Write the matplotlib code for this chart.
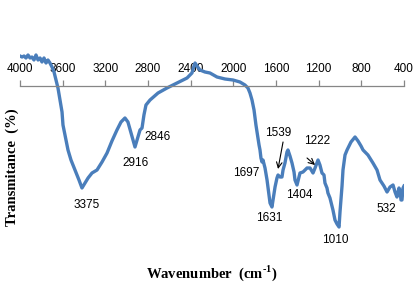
import matplotlib
matplotlib.use('Agg')
import matplotlib.pyplot as plt

# FTIR spectrum (wavenumber in cm-1, transmittance in arbitrary %)
# 10 values per row in both lists so they stay aligned
wavenumber = [4000, 3981, 3962, 3944, 3925, 3906, 3888, 3869, 3850, 3831,
              3812, 3794, 3775, 3756, 3738, 3719, 3700, 3681, 3662, 3644,
              3625, 3606, 3597, 3578, 3550, 3522, 3484, 3447, 3419, 3391,
              3362, 3325, 3278, 3231, 3184, 3138, 3091, 3053, 3016, 2988,
              2959, 2941, 2922, 2903, 2875, 2856, 2838, 2819, 2781, 2706,
              2622, 2528, 2434, 2388, 2369, 2359, 2341, 2313, 2266, 2219,
              2153, 2078, 2003, 1938, 1891, 1863, 1844, 1825, 1806, 1788,
              1769, 1759, 1750, 1741, 1731, 1722, 1703, 1684, 1666, 1656,
              1638, 1628, 1609, 1591, 1581, 1563, 1544, 1534, 1516, 1497,
              1488, 1469, 1450, 1431, 1422, 1403, 1384, 1375, 1347, 1309,
              1281, 1253, 1234, 1206, 1188, 1169, 1150, 1141, 1122, 1113,
              1094, 1066, 1047, 1028, 1009, 1000, 981, 972, 953, 934,
              897, 859, 831, 803, 784, 738, 691, 653, 625, 588,
              559, 531, 503, 484, 466, 447, 438, 428, 419, 409,
              400]
transmittance = [87, 86.5, 87, 86, 87.5, 86, 86.5, 85, 87.5, 85,
                 86, 84, 86, 83.5, 85, 83.5, 81.5, 79, 75, 71,
                 65, 59, 52.5, 47.5, 40, 35, 30, 25, 21, 23.5,
                 26, 28.5, 30, 34, 38.5, 44.5, 50, 54, 56, 54,
                 48.5, 45, 41.5, 45, 50, 51, 57.5, 62.5, 65, 68.5,
                 71, 73.5, 76, 78.5, 82, 83.5, 82, 80, 79, 78.5,
                 76.5, 75.5, 75, 74, 72.5, 71, 68.5, 65, 60, 52.5,
                 46, 42.5, 40, 36, 34, 35, 31, 25, 17.5, 13.5,
                 11.5, 15, 21.5, 26, 27.5, 26.5, 26.5, 30, 33.5, 39,
                 40, 37, 33.5, 29, 25, 22.5, 26.5, 28.5, 29, 31,
                 31, 28.5, 31, 35, 32.5, 28.5, 27.5, 23.5, 21, 18.5,
                 16, 10, 5, 3, 1.5, 9, 22, 30, 37.5, 40,
                 44, 46.5, 44.5, 42, 40, 37.5, 33.5, 30, 25, 22,
                 19, 21.5, 22.5, 19, 16.5, 21, 20, 15, 15, 21,
                 22]

tick_values = [4000, 3600, 3200, 2800, 2400, 2000, 1600, 1200, 800, 400]

# peak labels
peak_labels = ['3375', '2916', '2846', '1697', '1631', '1539', '1404', '1222', '1010', '532']
peak_text_x = [3372, 2912, 2706, 1881, 1666, 1581, 1384, 1216, 1047, 569]
peak_text_y = [12.5, 33.5, 46.5, 28.5, 6, 48.5, 17.5, 44.5, -5, 10.5]

# the two arrows (start -> tip)
arrow_start = [(1534, 44), (1309, 36)]
arrow_tip = [(1581, 30.5), (1234, 32.5)]

fig = plt.figure(figsize=(4.18, 2.90), dpi=100)
ax = fig.add_axes([20 / 418, 50 / 290, 384 / 418, 195 / 290])

ax.plot(wavenumber, transmittance, color='#4a7ebb', lw=2.4, solid_joinstyle='round')

ax.set_xlim(4000, 400)
ax.set_ylim(-5, 92.5)

# x axis drawn on top, crossing at T = 72 like the Excel chart
for s in ['left', 'right', 'bottom']:
    ax.spines[s].set_visible(False)
ax.spines['top'].set_position(('data', 72))
ax.spines['top'].set_color('#868686')
ax.spines['top'].set_linewidth(0.9)
ax.xaxis.set_ticks_position('top')
ax.set_xticks(tick_values)
ax.set_xticklabels([str(v) for v in tick_values])
ax.tick_params(axis='x', direction='out', length=4, width=0.9, color='#868686',
               pad=4, labelsize=8.5)
for lab in ax.get_xticklabels():
    lab.set_fontfamily('Liberation Sans')
ax.set_yticks([])

for t, x, y in zip(peak_labels, peak_text_x, peak_text_y):
    ax.text(x, y, t, ha='center', va='center', fontsize=8.5, family='Liberation Sans')

for s, e in zip(arrow_start, arrow_tip):
    ax.annotate('', xy=e, xytext=s,
                arrowprops=dict(arrowstyle='->', color='black', lw=0.8, shrinkA=0, shrinkB=0))

plt.rcParams['mathtext.fontset'] = 'custom'
plt.rcParams['mathtext.rm'] = 'Liberation Serif:bold'
fig.text(212 / 418, 1 - 273 / 290, r'Wavenumber  (cm$^{\text{-1}}$)', ha='center', va='center',
         fontsize=10.5, fontweight='bold', family='Liberation Serif')
fig.text(12 / 418, 1 - 167 / 290, 'Transmitance  (%)', ha='center', va='center', rotation=90,
         fontsize=10.5, fontweight='bold', family='Liberation Serif')

fig.savefig('out.png', dpi=100)
